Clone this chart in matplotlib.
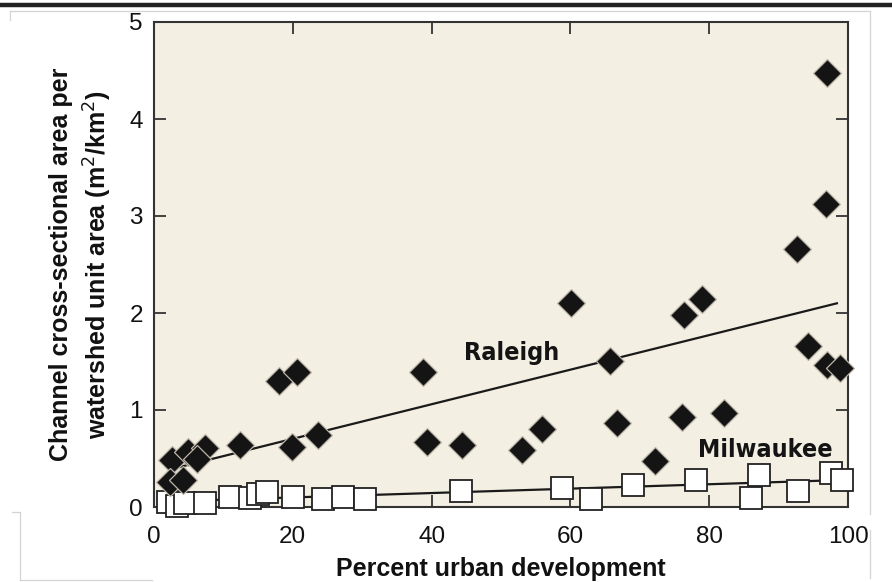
import matplotlib
matplotlib.use("Agg")
import matplotlib.pyplot as plt
from matplotlib.lines import Line2D

# Raleigh sites: percent urban development vs channel area per watershed area
raleigh_urban = [2.6, 4.9, 7.3, 6.2, 2.3, 4.2, 12.4, 19.9, 23.6, 18.0, 20.6,
                 38.8, 39.3, 44.4, 53.0, 55.9, 60.1, 65.7, 66.7, 72.2, 76.1,
                 76.4, 79.0, 82.1, 92.6, 94.2, 96.8, 97.0, 97.0, 98.8]
raleigh_area = [0.48, 0.57, 0.61, 0.50, 0.26, 0.28, 0.64, 0.62, 0.74, 1.30, 1.39,
                1.39, 0.67, 0.64, 0.59, 0.80, 2.10, 1.51, 0.87, 0.47, 0.93,
                1.98, 2.14, 0.97, 2.66, 1.66, 3.12, 4.47, 1.46, 1.43]

# Milwaukee sites
milwaukee_urban = [2.0, 3.3, 4.5, 7.3, 11.0, 13.8, 15.0, 16.3, 20.0, 24.4, 27.2,
                   30.4, 44.2, 58.8, 62.9, 69.0, 78.1, 86.0, 87.2, 92.8, 97.6, 99.1]
milwaukee_area = [0.05, 0.01, 0.04, 0.04, 0.10, 0.09, 0.13, 0.15, 0.10, 0.08, 0.10,
                  0.08, 0.16, 0.20, 0.08, 0.23, 0.28, 0.09, 0.33, 0.16, 0.35, 0.28]

# Fitted trend lines (endpoints)
raleigh_fit_x = [3.0, 98.4]
raleigh_fit_y = [0.40, 2.10]
milwaukee_fit_x = [3.0, 100.0]
milwaukee_fit_y = [0.06, 0.28]

x_ticks = [0, 20, 40, 60, 80, 100]
y_ticks = [0, 1, 2, 3, 4, 5]

plt.rcParams['font.family'] = ['Liberation Sans', 'DejaVu Sans']

fig = plt.figure(figsize=(8.92, 5.82), dpi=100)
fig.patch.set_facecolor('white')
ax = fig.add_axes([154 / 892, 1 - 507 / 582, (848 - 154) / 892, (507 - 22) / 582])
ax.set_facecolor('#f4efe3')

ax.plot(raleigh_fit_x, raleigh_fit_y, color='#1a1a1a', lw=1.6, zorder=2)
ax.plot(milwaukee_fit_x, milwaukee_fit_y, color='#1a1a1a', lw=1.6, zorder=2)

ax.plot(milwaukee_urban, milwaukee_area, linestyle='none', marker='s',
        markersize=16, markerfacecolor='white', markeredgecolor='#222222',
        markeredgewidth=1.3, zorder=3, clip_on=False)
ax.plot(raleigh_urban, raleigh_area, linestyle='none', marker='D',
        markersize=14, markerfacecolor='#141414', markeredgecolor='#bdb7aa',
        markeredgewidth=0.9, zorder=4, clip_on=False)

label_font = ['Liberation Sans Narrow', 'DejaVu Sans']
ax.text(44.6, 1.52, 'Raleigh', fontsize=18, fontweight='bold',
        family=label_font, stretch='condensed', color='#141414',
        ha='left', va='baseline', zorder=5)
ax.text(78.4, 0.52, 'Milwaukee', fontsize=18, fontweight='bold',
        family=label_font, stretch='condensed', color='#141414',
        ha='left', va='baseline', zorder=5)

ax.set_xlim(0, 100)
ax.set_ylim(0, 5)
ax.set_xticks(x_ticks)
ax.set_yticks(y_ticks)
ax.set_xticklabels([str(v) for v in x_ticks])
ax.set_yticklabels([str(v) for v in y_ticks])
ax.tick_params(axis='both', direction='in', length=8.5, width=1.3,
               color='#333333', labelsize=17.5, labelcolor='#111111',
               top=True, right=True)
ax.tick_params(axis='x', pad=14)
ax.tick_params(axis='y', pad=8)
for s in ax.spines.values():
    s.set_color('#333333')
    s.set_linewidth(1.5)

ax.set_xlabel('Percent urban development', fontsize=18, fontweight='bold',
              color='#111111', labelpad=6)
ax.set_ylabel('Channel cross-sectional area per\nwatershed unit area (m$^2$/km$^2$)',
              fontsize=18, fontweight='bold', color='#111111', linespacing=1.35,
              labelpad=11)

# heavy rule across the top of the figure
fig.add_artist(Line2D([0, 1], [1 - 5 / 582, 1 - 5 / 582], color='#222222',
                      lw=3.2, transform=fig.transFigure))

# faint frame lines
def px_line(xs, ys, **kw):
    fig.add_artist(Line2D([x / 892 for x in xs], [1 - y / 582 for y in ys],
                          transform=fig.transFigure, color='#d4d4d4', lw=0.9, **kw))

px_line([10, 870], [11, 11])
px_line([10, 10], [11, 20])
px_line([870, 870], [11, 514])
px_line([870, 870], [530, 578])
px_line([12, 20], [512, 512])
px_line([20, 20], [512, 580])
px_line([20, 152], [580, 580])

fig.savefig('out.png', dpi=100, facecolor='white')
